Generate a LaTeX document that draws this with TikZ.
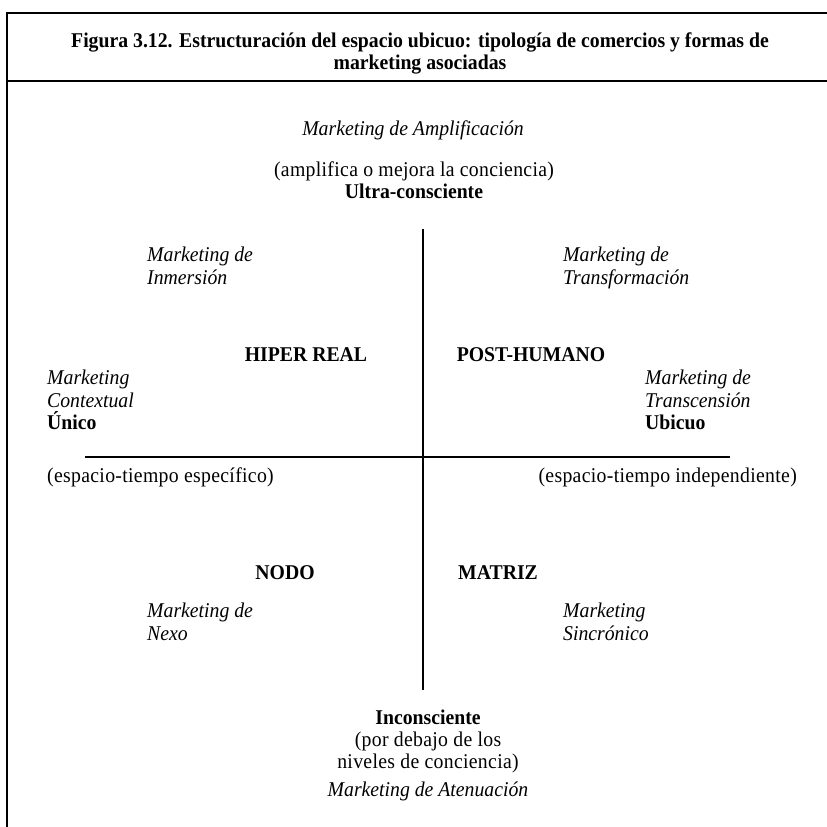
\documentclass[tikz,border=0pt]{standalone}
\usepackage{fontspec}
\setmainfont[FakeStretch=0.94]{Liberation Serif}
\newfontfamily\spacedrm[FakeStretch=0.94,LetterSpace=1.5]{Liberation Serif}
\begin{document}
\begin{tikzpicture}[x=1pt,y=-1pt,
  rule/.style={line width=2.8pt},
  axis/.style={line width=2pt},
  lbl/.style={inner sep=0pt,font=\fontsize{21}{23}\selectfont},
  mk/.style={lbl,font=\fontsize{21}{23}\selectfont\itshape},
  up/.style={lbl,font=\fontsize{21}{23}\selectfont\spacedrm},
  hd/.style={lbl,font=\fontsize{21}{23}\selectfont\bfseries}]
\useasboundingbox (0,0) rectangle (827,827);
% frame: top rule, header rule, left side (open to the right and bottom)
\coordinate (tl) at (7,13);
\coordinate (tr) at (830,13);
\coordinate (hl) at (7,81);
\coordinate (hr) at (830,81);
\coordinate (bl) at (7,830);
\draw[rule] (tr) -- (tl) -- (bl);
\draw[rule] (hl) -- (hr);
% header
\node[hd,anchor=base] (t1) at (420,47) {Figura 3.12. Estructuración del espacio ubicuo: tipología de comercios y formas de};
\node[hd,anchor=base] (t2) at (420,69) {marketing asociadas};
% axes
\coordinate (vtop) at (423,229);
\coordinate (vbot) at (423,690);
\coordinate (hlft) at (85,457);
\coordinate (hrgt) at (730,457);
\draw[axis] (vtop) -- (vbot);
\draw[axis] (hlft) -- (hrgt);
% top pole
\node[mk,anchor=base] (amp) at (413,135) {Marketing de Amplificación};
\node[up,anchor=base] (ampd) at (414,176) {(amplifica o mejora la conciencia)};
\node[hd,anchor=base] (ultra) at (414,198) {Ultra-consciente};
% upper quadrants
\node[mk,anchor=base west] (inm1) at (147,261) {Marketing de};
\node[mk,anchor=base west] (inm2) at (147,284) {Inmersión};
\node[mk,anchor=base west] (tra1) at (563,261) {Marketing de};
\node[mk,anchor=base west] (tra2) at (563,284) {Transformación};
\node[hd,anchor=base] (hiper) at (306,361) {HIPER REAL};
\node[hd,anchor=base] (post) at (531,361) {POST-HUMANO};
% left pole
\node[mk,anchor=base west] (ctx1) at (47,384) {Marketing};
\node[mk,anchor=base west] (ctx2) at (47,407) {Contextual};
\node[hd,anchor=base west] (unico) at (47,429) {Único};
\node[up,anchor=base west] (esp1) at (47,482) {(espacio-tiempo específico)};
% right pole
\node[mk,anchor=base west] (trc1) at (645,384) {Marketing de};
\node[mk,anchor=base west] (trc2) at (645,407) {Transcensión};
\node[hd,anchor=base west] (ubicuo) at (645,429) {Ubicuo};
\node[up,anchor=base east] (esp2) at (797,482) {(espacio-tiempo independiente)};
% lower quadrants
\node[hd,anchor=base] (nodo) at (285,579) {NODO};
\node[hd,anchor=base] (matriz) at (498,579) {MATRIZ};
\node[mk,anchor=base west] (nex1) at (147,617) {Marketing de};
\node[mk,anchor=base west] (nex2) at (147,640) {Nexo};
\node[mk,anchor=base west] (sin1) at (563,617) {Marketing};
\node[mk,anchor=base west] (sin2) at (563,640) {Sincrónico};
% bottom pole
\node[hd,anchor=base] (inc) at (428,724) {Inconsciente};
\node[up,anchor=base] (incd1) at (428,746) {(por debajo de los};
\node[up,anchor=base] (incd2) at (428,768) {niveles de conciencia)};
\node[mk,anchor=base] (ate) at (428,796) {Marketing de Atenuación};
\end{tikzpicture}
\end{document}
